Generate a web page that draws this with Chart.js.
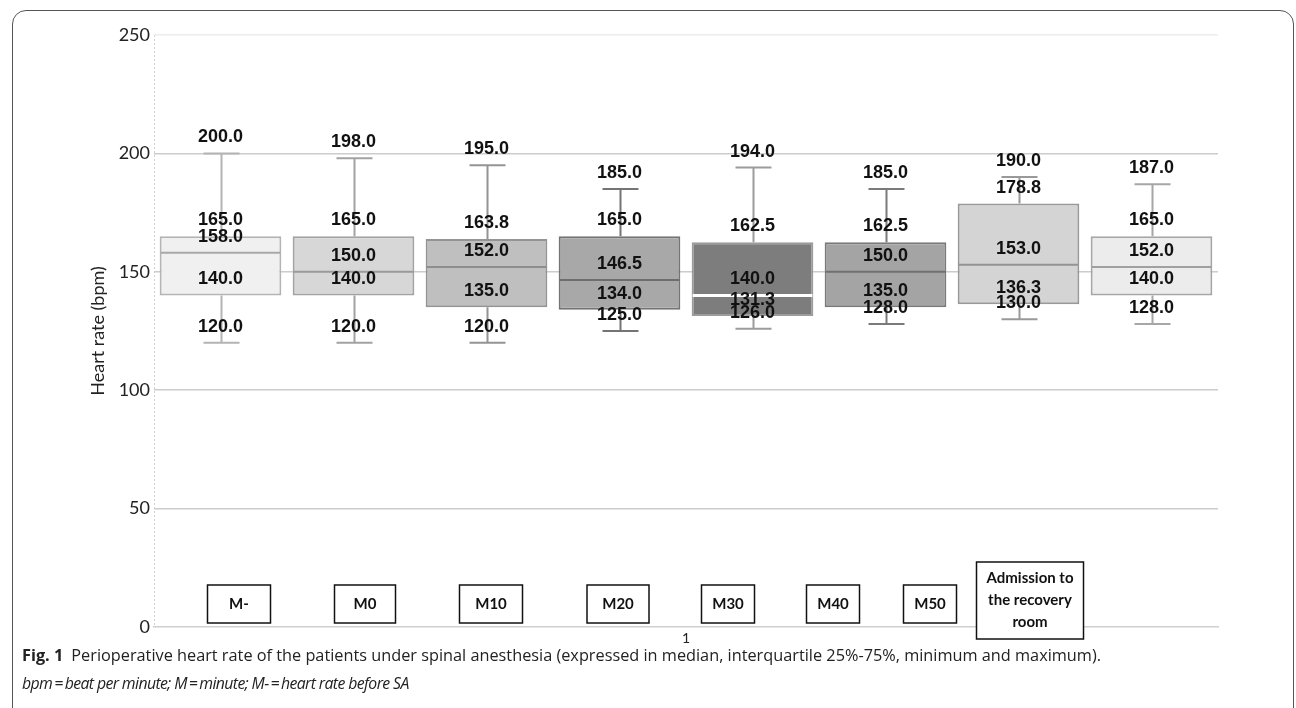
<!DOCTYPE html>
<html>
<head>
<meta charset="utf-8">
<script src="https://cdn.jsdelivr.net/npm/chart.js@4.4.1/dist/chart.umd.min.js"></script>
<style>
  html, body { margin: 0; padding: 0; background: #fff; }
  body { width: 1296px; height: 708px; position: relative; overflow: hidden; }
  .frame {
    position: absolute; left: 12px; top: 10px; width: 1280px; height: 760px;
    border: 1.5px solid #555; border-radius: 14px;
  }
  #chart { position: absolute; left: 0; top: 0; }
  .caption {
    position: absolute; left: 22px; top: 641px; width: 1270px;
    font-family: 'Open Sans', sans-serif; font-size: 16.3px; line-height: 28px;
    color: #222; white-space: nowrap;
  }
  .caption b { font-weight: 700; margin-right: 8px; }
  .caption i { font-style: italic; font-size: 15.8px; letter-spacing: -0.6px; }
</style>
</head>
<body>
<div class="frame"></div>
<canvas id="chart" width="1296" height="660"></canvas>
<div class="caption">
  <div><b>Fig. 1</b>Perioperative heart rate of the patients under spinal anesthesia (expressed in median, interquartile 25%-75%, minimum and maximum).</div>
  <div><i>bpm&#8201;=&#8201;beat per minute; M&#8201;=&#8201;minute; M-&#8201;=&#8201;heart rate before SA</i></div>
</div>
<script>
// ---------------------------------------------------------------------------
// Data
// ---------------------------------------------------------------------------
const timePoints = ['M-', 'M0', 'M10', 'M20', 'M30', 'M40', 'M50', 'Admission to the recovery room'];
const maxValues = [200.0, 198.0, 195.0, 185.0, 194.0, 185.0, 190.0, 187.0];
const q3Values = [165.0, 165.0, 163.8, 165.0, 162.5, 162.5, 178.8, 165.0];
const medianValues = [158.0, 150.0, 152.0, 146.5, 140.0, 150.0, 153.0, 152.0];
const q1Values = [140.0, 140.0, 135.0, 134.0, 131.3, 135.0, 136.3, 140.0];
const minValues = [120.0, 120.0, 120.0, 125.0, 126.0, 128.0, 130.0, 128.0];
const categories = ['1'];
const yTicks = [0, 50, 100, 150, 200, 250];

// Styling per box
const boxFills = ['#f0f0f0', '#d7d7d7', '#bfbfbf', '#a8a8a8', '#7d7d7d', '#a4a4a4', '#d4d4d4', '#ececec'];
const boxEdges = ['#b4b4b4', '#a2a2a2', '#949494', '#747474', '#9c9c9c', '#7a7a7a', '#999999', '#a6a6a6'];
const medianColors = ['#a8a8a8', '#9a9a9a', '#8e8e8e', '#6e6e6e', '#ffffff', '#707070', '#939393', '#a0a0a0'];

// Time-point tags pasted along the bottom of the plot: [offset from plot left, width]
const tagLayout = [[85, 63], [211, 61], [337, 63], [464, 62], [574, 53], [679, 53], [776, 53], [876, 107]];
const tagLines = ['M-', 'M0', 'M10', 'M20', 'M30', 'M40', 'M50', ['Admission to', 'the recovery', 'room']];

// ---------------------------------------------------------------------------
// Box-plot plugin: whiskers, medians, value labels and tags
// ---------------------------------------------------------------------------
const boxPlotPlugin = {
  id: 'boxPlot',
  beforeDatasetsDraw(chart) {
    const { ctx } = chart;
    const y = chart.scales.y;
    ctx.save();
    ctx.lineWidth = 2;
    chart.data.datasets.forEach((ds, i) => {
      const bar = chart.getDatasetMeta(i).data[0];
      if (!bar) return;
      const x = Math.round(bar.x) + 0.5;
      const yMax = y.getPixelForValue(maxValues[i]);
      const yMin = y.getPixelForValue(minValues[i]);
      const yQ3 = y.getPixelForValue(q3Values[i]);
      const yQ1 = y.getPixelForValue(q1Values[i]);
      ctx.strokeStyle = boxEdges[i];
      ctx.beginPath();
      ctx.moveTo(x, yMax); ctx.lineTo(x, yQ3);
      ctx.moveTo(x, yQ1); ctx.lineTo(x, yMin);
      ctx.moveTo(x - 18, yMax); ctx.lineTo(x + 18, yMax);
      ctx.moveTo(x - 18, yMin); ctx.lineTo(x + 18, yMin);
      ctx.stroke();
    });
    ctx.restore();
  },
  afterDatasetsDraw(chart) {
    const { ctx, chartArea } = chart;
    const y = chart.scales.y;
    ctx.save();

    // Medians
    chart.data.datasets.forEach((ds, i) => {
      const bar = chart.getDatasetMeta(i).data[0];
      if (!bar) return;
      const half = bar.width / 2 - 1;
      const ym = y.getPixelForValue(medianValues[i]);
      ctx.strokeStyle = medianColors[i];
      ctx.lineWidth = i === 4 ? 3 : 2;
      ctx.beginPath();
      ctx.moveTo(bar.x - half, ym);
      ctx.lineTo(bar.x + half, ym);
      ctx.stroke();
    });

    // Value labels, sitting just above the value they describe
    ctx.fillStyle = '#111';
    ctx.font = 'bold 18px "Liberation Sans", Arial, sans-serif';
    ctx.textAlign = 'center';
    ctx.textBaseline = 'middle';
    chart.data.datasets.forEach((ds, i) => {
      const bar = chart.getDatasetMeta(i).data[0];
      if (!bar) return;
      [maxValues, q3Values, medianValues, q1Values, minValues].forEach(arr => {
        ctx.fillText(arr[i].toFixed(1), bar.x, y.getPixelForValue(arr[i]) - 16);
      });
    });

    // Time-point tags
    ctx.font = 'bold 15px Lato, sans-serif';
    ctx.lineWidth = 1.5;
    ctx.strokeStyle = '#111';
    tagLayout.forEach(([off, w], i) => {
      const lines = Array.isArray(tagLines[i]) ? tagLines[i] : [tagLines[i]];
      const h = lines.length > 1 ? 77 : 38;
      const cx = chartArea.left + off;
      const bottom = lines.length > 1 ? chartArea.bottom + 12 : chartArea.bottom - 4;
      const top = bottom - h;
      ctx.fillStyle = '#fff';
      ctx.fillRect(cx - w / 2, top, w, h);
      ctx.strokeRect(cx - w / 2, top, w, h);
      ctx.fillStyle = '#111';
      const lh = 22;
      const start = top + h / 2 - (lines.length - 1) * lh / 2;
      lines.forEach((t, k) => ctx.fillText(t, cx, start + k * lh));
    });
    ctx.restore();
  }
};

// ---------------------------------------------------------------------------
// Chart
// ---------------------------------------------------------------------------
const datasets = timePoints.map((name, i) => ({
  label: name,
  data: [[q1Values[i], q3Values[i]]],
  backgroundColor: boxFills[i],
  borderColor: boxEdges[i],
  borderWidth: 2,
  borderSkipped: false
}));

new Chart(document.getElementById('chart'), {
  type: 'bar',
  data: { labels: categories, datasets },
  plugins: [boxPlotPlugin],
  options: {
    responsive: false,
    animation: false,
    categoryPercentage: 1.0,
    barPercentage: 0.915,
    layout: { padding: { left: 86, right: 78, top: 35, bottom: 0 } },
    plugins: { legend: { display: false }, tooltip: { enabled: false } },
    scales: {
      x: {
        afterFit(scale) { scale.height = 33; },
        grid: {
          drawTicks: false,
          color: (c) => c.index === 0 ? '#cfcfcf' : 'rgba(0,0,0,0)'
        },
        border: { color: '#cfcfcf', width: 1.5, dash: [2, 2] },
        ticks: { color: '#222', font: { family: 'Lato', size: 14 }, padding: 3 }
      },
      y: {
        min: 0,
        max: 250,
        afterFit(scale) { scale.width = 68; },
        afterBuildTicks(scale) { scale.ticks = yTicks.map(v => ({ value: v })); },
        border: { display: false },
        grid: {
          drawTicks: false,
          lineWidth: 1.5,
          color: (c) => {
            if (c.tick && c.tick.value === 0) return 'rgba(0,0,0,0)';
            if (c.tick && c.tick.value === 250) return '#ececec';
            return '#cccccc';
          }
        },
        ticks: { color: '#222', font: { family: 'Lato', size: 18 }, padding: 4 },
        title: {
          display: true,
          text: 'Heart rate (bpm)',
          color: '#222',
          font: { family: 'Lato', size: 18 },
          padding: { top: 1, bottom: 0 }
        }
      }
    }
  }
});
</script>
</body>
</html>
